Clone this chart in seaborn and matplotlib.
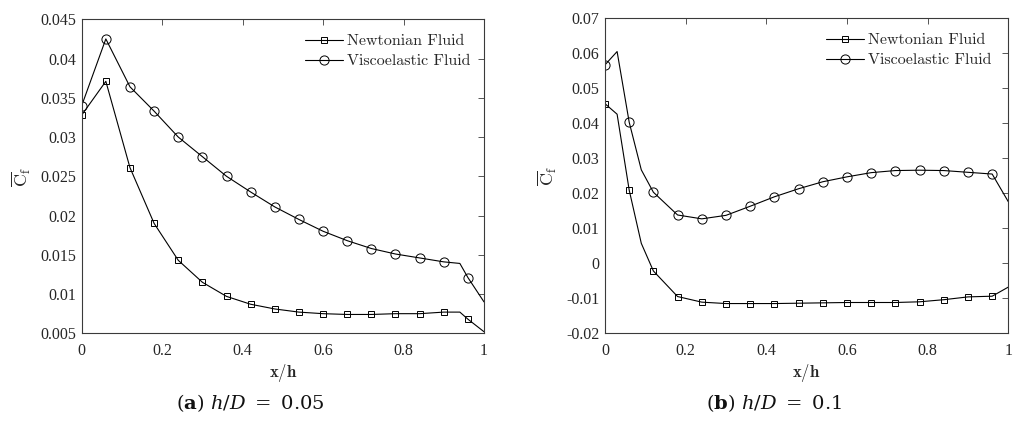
import matplotlib
matplotlib.use("Agg")
import matplotlib.pyplot as plt
from matplotlib.lines import Line2D
import seaborn as sns

# ---------------- data ----------------
x_mark = [0.00, 0.06, 0.12, 0.18, 0.24, 0.30, 0.36, 0.42, 0.48, 0.54,
          0.60, 0.66, 0.72, 0.78, 0.84, 0.90, 0.96]

# panel (a) h/D = 0.05
x_line_a = [0.00, 0.06, 0.12, 0.18, 0.24, 0.30, 0.36, 0.42, 0.48, 0.54,
            0.60, 0.66, 0.72, 0.78, 0.84, 0.90, 0.94, 0.96, 1.00]
newt_a_line = [0.0328, 0.0371, 0.0261, 0.0190, 0.0143, 0.0115, 0.0097, 0.0087,
               0.0081, 0.0077, 0.0075, 0.0074, 0.0074, 0.0075, 0.0075, 0.0077,
               0.0077, 0.0068, 0.0052]
visc_a_line = [0.0340, 0.0425, 0.0364, 0.0333, 0.0300, 0.0275, 0.0250, 0.0230,
               0.0211, 0.0195, 0.0180, 0.0168, 0.0158, 0.0151, 0.0146, 0.0141,
               0.0139, 0.0121, 0.0090]
newt_a_mark = [0.0328, 0.0371, 0.0261, 0.0190, 0.0143, 0.0115, 0.0097, 0.0087,
               0.0081, 0.0077, 0.0075, 0.0074, 0.0074, 0.0075, 0.0075, 0.0077,
               0.0068]
visc_a_mark = [0.0340, 0.0425, 0.0364, 0.0333, 0.0300, 0.0275, 0.0250, 0.0230,
               0.0211, 0.0195, 0.0180, 0.0168, 0.0158, 0.0151, 0.0146, 0.0141,
               0.0121]

# panel (b) h/D = 0.1
x_line_b = [0.00, 0.03, 0.06, 0.09, 0.12, 0.18, 0.24, 0.30, 0.36, 0.42, 0.48,
            0.54, 0.60, 0.66, 0.72, 0.78, 0.84, 0.90, 0.96, 1.00]
newt_b_line = [0.0456, 0.0426, 0.0209, 0.0057, -0.0022, -0.0095, -0.0111,
               -0.0115, -0.0115, -0.0115, -0.0114, -0.0113, -0.0112, -0.0112,
               -0.0112, -0.0110, -0.0104, -0.0096, -0.0094, -0.0068]
visc_b_line = [0.0567, 0.0605, 0.0403, 0.0267, 0.0203, 0.0138, 0.0127, 0.0137,
               0.0163, 0.0190, 0.0213, 0.0233, 0.0247, 0.0259, 0.0265, 0.0266,
               0.0265, 0.0260, 0.0255, 0.0176]
newt_b_mark = [0.0456, 0.0209, -0.0022, -0.0095, -0.0111, -0.0115, -0.0115,
               -0.0115, -0.0114, -0.0113, -0.0112, -0.0112, -0.0112, -0.0110,
               -0.0104, -0.0096, -0.0094]
visc_b_mark = [0.0567, 0.0403, 0.0203, 0.0138, 0.0127, 0.0137, 0.0163, 0.0190,
               0.0213, 0.0233, 0.0247, 0.0259, 0.0265, 0.0266, 0.0265, 0.0260,
               0.0255]

x_ticks = [0, 0.2, 0.4, 0.6, 0.8, 1.0]
x_tick_labels = ["0", "0.2", "0.4", "0.6", "0.8", "1"]
y_ticks_a = [0.005, 0.01, 0.015, 0.02, 0.025, 0.03, 0.035, 0.04, 0.045]
y_tick_labels_a = ["0.005", "0.01", "0.015", "0.02", "0.025", "0.03", "0.035",
                   "0.04", "0.045"]
y_ticks_b = [-0.02, -0.01, 0, 0.01, 0.02, 0.03, 0.04, 0.05, 0.06, 0.07]
y_tick_labels_b = ["-0.02", "-0.01", "0", "0.01", "0.02", "0.03", "0.04",
                   "0.05", "0.06", "0.07"]

series_names = ["Newtonian Fluid", "Viscoelastic Fluid"]
captions = [r"$(\mathbf{a})\ h/D\ =\ 0.05$", r"$(\mathbf{b})\ h/D\ =\ 0.1$"]

# ---------------- style ----------------
sns.set_style("white")
plt.rcParams["font.family"] = ["Liberation Serif", "DejaVu Serif"]
plt.rcParams["mathtext.fontset"] = "cm"

W, H = 1019, 421
fig = plt.figure(figsize=(W / 100, H / 100), dpi=100)
ax1 = fig.add_axes([81.7 / W, (H - 333.3) / H, 402.3 / W, 314.0 / H])
ax2 = fig.add_axes([605.0 / W, (H - 333.3) / H, 403.3 / W, 315.0 / H])

edge = "#3a3a3a"
LW = 0.8


def draw(ax, xl, nl, vl, nm, vm, yticks, ylabels, ylim, leg_x, leg_y):
    sns.lineplot(x=xl, y=nl, ax=ax, color="k", lw=LW, sort=False)
    sns.lineplot(x=xl, y=vl, ax=ax, color="k", lw=LW, sort=False)
    sns.lineplot(x=x_mark, y=nm, ax=ax, color="k", linestyle="", marker="s",
                 markersize=4.3, markerfacecolor="none", markeredgecolor="k",
                 markeredgewidth=0.7, sort=False)
    sns.lineplot(x=x_mark, y=vm, ax=ax, color="k", linestyle="", marker="o",
                 markersize=6.6, markerfacecolor="none", markeredgecolor="k",
                 markeredgewidth=0.7, sort=False)
    ax.set_xlim(0, 1)
    ax.set_ylim(*ylim)
    ax.set_xticks(x_ticks)
    ax.set_xticklabels(x_tick_labels)
    ax.set_yticks(yticks)
    ax.set_yticklabels(ylabels)
    ax.tick_params(direction="in", top=True, right=True, length=4, width=0.6,
                   color=edge, labelcolor="#262626", labelsize=11.5)
    ax.tick_params(axis="x", pad=7)
    ax.tick_params(axis="y", pad=4)
    for s in ax.spines.values():
        s.set_visible(True)
        s.set_color(edge)
        s.set_linewidth(0.8)
    ax.set_xlabel(r"$\mathbf{x/h}$", fontsize=12, color="#262626", labelpad=2)
    ax.set_ylabel(r"$\overline{\mathrm{C}}_{\mathrm{f}}$", fontsize=13,
                  color="#262626", labelpad=5)
    handles = [
        Line2D([], [], color="k", lw=LW, marker="s", markersize=4.3,
               markerfacecolor="none", markeredgewidth=0.7),
        Line2D([], [], color="k", lw=LW, marker="o", markersize=6.6,
               markerfacecolor="none", markeredgewidth=0.7),
    ]
    ax.legend(handles, series_names, loc="upper right",
              bbox_to_anchor=(leg_x, leg_y), frameon=False, borderpad=0,
              handlelength=2.4, handletextpad=0.25, labelspacing=0.35,
              prop={"family": "cmr10", "size": 11.5})


draw(ax1, x_line_a, newt_a_line, visc_a_line, newt_a_mark, visc_a_mark,
     y_ticks_a, y_tick_labels_a, (0.005, 0.045), 0.987, 0.978)
draw(ax2, x_line_b, newt_b_line, visc_b_line, newt_b_mark, visc_b_mark,
     y_ticks_b, y_tick_labels_b, (-0.02, 0.07), 0.979, 0.978)

fig.text(250.7 / W, (H - 403) / H, captions[0], ha="center", va="center",
         fontsize=14, math_fontfamily="dejavuserif", color="#111111")
fig.text(774.0 / W, (H - 403) / H, captions[1], ha="center", va="center",
         fontsize=14, math_fontfamily="dejavuserif", color="#111111")

fig.savefig("out.png", dpi=100)
